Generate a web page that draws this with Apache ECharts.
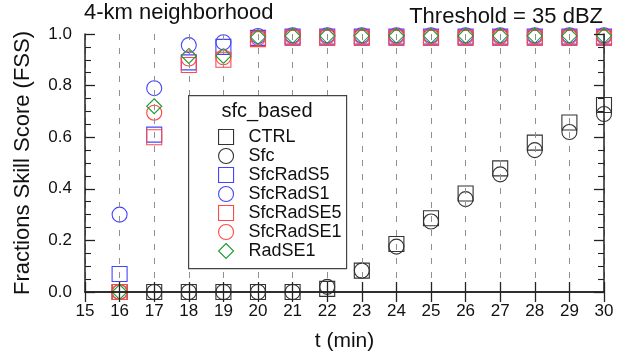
<!DOCTYPE html>
<html>
<head>
<meta charset="utf-8">
<script src="https://cdn.jsdelivr.net/npm/echarts@6/dist/echarts.min.js"></script>
<style>
  html, body { margin: 0; padding: 0; background: #fff; }
  #chart { width: 625px; height: 357px; }
</style>
</head>
<body>
<div id="chart"></div>
<script>
// Forecast time (minutes)
const times = [16, 17, 18, 19, 20, 21, 22, 23, 24, 25, 26, 27, 28, 29, 30];
const xTickLabels = ['15','16','17','18','19','20','21','22','23','24','25','26','27','28','29','30'];
const yTickLabels = ['0.0','0.2','0.4','0.6','0.8','1.0'];

// FSS per experiment
const CTRL      = [0, 0, 0, 0, 0, 0, 0.012, 0.083, 0.186, 0.286, 0.382, 0.479, 0.579, 0.657, 0.725];
const Sfc       = [0, 0, 0, 0, 0, 0, 0.020, 0.083, 0.176, 0.273, 0.360, 0.456, 0.550, 0.620, 0.690];
const SfcRadS5  = [0.07, 0.61, 0.89, 0.95, 0.985, 0.99, 0.99, 0.99, 0.99, 0.99, 0.99, 0.99, 0.99, 0.99, 0.99];
const SfcRadS1  = [0.30, 0.79, 0.957, 0.968, 0.992, 0.995, 0.995, 0.995, 0.995, 0.995, 0.995, 0.995, 0.995, 0.995, 0.995];
const SfcRadSE5 = [0, 0.60, 0.88, 0.90, 0.98, 0.985, 0.985, 0.985, 0.985, 0.985, 0.985, 0.985, 0.985, 0.985, 0.985];
const SfcRadSE1 = [0, 0.695, 0.905, 0.91, 0.985, 0.99, 0.99, 0.99, 0.99, 0.99, 0.99, 0.99, 0.99, 0.99, 0.99];
const RadSE1    = [0, 0.72, 0.915, 0.915, 0.988, 0.993, 0.993, 0.993, 0.993, 0.993, 0.993, 0.993, 0.993, 0.993, 0.993];

const FONT = 'Liberation Sans';
const BLACK = '#333333';
const BLUE = '#4444ff';
const RED = '#ff4848';
const GREEN = '#1f9a30';

const experiments = [
  { name: 'CTRL',      data: CTRL,      symbol: 'rect',    color: BLACK },
  { name: 'Sfc',       data: Sfc,       symbol: 'circle',  color: BLACK },
  { name: 'SfcRadS5',  data: SfcRadS5,  symbol: 'rect',    color: BLUE },
  { name: 'SfcRadS1',  data: SfcRadS1,  symbol: 'circle',  color: BLUE },
  { name: 'SfcRadSE5', data: SfcRadSE5, symbol: 'rect',    color: RED },
  { name: 'SfcRadSE1', data: SfcRadSE1, symbol: 'circle',  color: RED },
  { name: 'RadSE1',    data: RadSE1,    symbol: 'diamond', color: GREEN }
];

const chart = echarts.init(document.getElementById('chart'), null, { renderer: 'canvas' });

const axisLine = { show: true, lineStyle: { color: '#222', width: 1.5 } };
const majorTick = { show: true, inside: true, length: 10, lineStyle: { color: '#222', width: 1.3 } };
const minorTick = { show: true, splitNumber: 4, length: 6, lineStyle: { color: '#222', width: 1.1 } };

const option = {
  animation: false,
  backgroundColor: '#fff',
  textStyle: { fontFamily: FONT },
  grid: { left: 85, right: 21, top: 34, bottom: 65, containLabel: false },
  legend: {
    orient: 'vertical',
    left: 218, top: 128,
    z: 30,
    padding: 0,
    itemGap: 1,
    itemWidth: 15, itemHeight: 15,
    textStyle: { fontFamily: FONT, fontSize: 18, color: '#111', padding: [0, 0, 0, 10] },
    data: experiments.map(e => ({
      name: e.name,
      icon: e.symbol,
      itemStyle: { color: 'rgba(0,0,0,0)', borderColor: e.color, borderWidth: 1.1 }
    }))
  },
  graphic: [
    // legend frame and heading
    { type: 'rect', left: 188, top: 95, z: 20,
      shape: { width: 158, height: 173 },
      style: { fill: '#fff', stroke: '#444', lineWidth: 1.2 } },
    { type: 'text', x: 267, y: 111, z: 60,
      style: { text: 'sfc_based', font: '20px "Liberation Sans"', fill: '#111',
               textAlign: 'center', textVerticalAlign: 'middle' } },
    // panel headings
    { type: 'text', x: 84, y: 13, z: 60,
      style: { text: '4-km neighborhood', font: '22px "Liberation Sans"', fill: '#111',
               textAlign: 'left', textVerticalAlign: 'middle' } },
    { type: 'text', x: 603, y: 17, z: 60,
      style: { text: 'Threshold = 35 dBZ', font: '22px "Liberation Sans"', fill: '#111',
               textAlign: 'right', textVerticalAlign: 'middle' } }
  ],
  xAxis: [
    {
      type: 'value', min: 15, max: 30, interval: 1, position: 'bottom', z: 5,
      name: 't (min)', nameLocation: 'middle', nameGap: 39,
      nameTextStyle: { fontFamily: FONT, fontSize: 21, color: '#111' },
      axisLine: axisLine,
      axisTick: majorTick,
      axisLabel: { margin: 11, fontFamily: FONT, fontSize: 17, color: '#111',
        formatter: v => xTickLabels[Math.round(v) - 15] },
      splitLine: { show: true, lineStyle: { color: '#8f8f8f', type: [6, 8], width: 1 } }
    },
    {
      type: 'value', min: 15, max: 30, interval: 1, position: 'top', z: 5,
      axisLine: axisLine,
      axisTick: majorTick,
      axisLabel: { show: false },
      splitLine: { show: false }
    }
  ],
  yAxis: [
    {
      type: 'value', min: 0, max: 1, interval: 0.2, position: 'left', z: 5,
      name: 'Fractions Skill Score (FSS)', nameLocation: 'middle', nameGap: 51,
      nameTextStyle: { fontFamily: FONT, fontSize: 22, color: '#111' },
      axisLine: axisLine,
      axisTick: majorTick,
      minorTick: minorTick,
      axisLabel: { margin: 13, fontFamily: FONT, fontSize: 17, color: '#111',
        formatter: v => yTickLabels[Math.round(v * 5)] },
      splitLine: { show: false }
    },
    {
      type: 'value', min: 0, max: 1, interval: 0.2, position: 'right', z: 5,
      axisLine: axisLine,
      axisTick: majorTick,
      minorTick: minorTick,
      axisLabel: { show: false },
      splitLine: { show: false }
    }
  ],
  series: experiments.map((e, i) => ({
    name: e.name,
    type: 'scatter',
    xAxisIndex: 0, yAxisIndex: 0,
    symbol: e.symbol,
    symbolSize: 15,
    z: 2 + i * 0.01,
    clip: false,
    itemStyle: { color: 'rgba(0,0,0,0)', borderColor: e.color, borderWidth: 1.1, opacity: 1 },
    emphasis: { disabled: true },
    data: times.map((t, k) => [t, e.data[k]])
  }))
};

chart.setOption(option);
</script>
</body>
</html>
